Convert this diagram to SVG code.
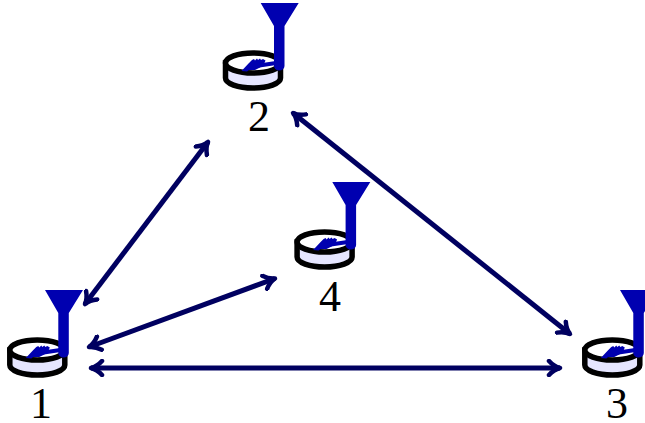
<svg xmlns="http://www.w3.org/2000/svg" width="645" height="423" viewBox="0 0 645 423">
<style>
.conn{fill:none;stroke:#000060;stroke-width:5;marker-start:url(#head);marker-end:url(#head)}
.disk{fill:#e6e6ff;stroke:#000;stroke-width:5.5}
.top{fill:#fff;stroke:#000;stroke-width:5.5}
.blue{fill:#0000b0}
.arm{fill:none;stroke:#0000b0;stroke-width:4}
.lbl{font-family:"Liberation Serif","Times New Roman",serif;font-size:44px;fill:#000;text-anchor:middle}
</style>
<defs>
<marker id="head" viewBox="-14 -9 18 18" refX="0" refY="0" markerUnits="userSpaceOnUse" markerWidth="18" markerHeight="18" orient="auto-start-reverse">
<path d="M-11,-7 Q-6,-1.5 0,0 Q-6,1.5 -11,7" fill="none" stroke="#000060" stroke-width="4.5" stroke-linecap="round" stroke-linejoin="round"/>
</marker>
<g id="ant">
<path class="disk" d="M225.5,63 V78 A27.5,10 0 0 0 280.5,78 V63 Z"/>
<ellipse class="top" cx="253" cy="63" rx="27.5" ry="10"/>
<path class="blue" d="M260.7,3 H298.7 L284.5,26 V66 A5.2,4.5 0 0 1 274,66 V26 Z"/>
<path class="arm" d="M276,63 L256,66"/>
<path class="blue" d="M241.5,71 L249,63 L252,60 L254,59 L255,60.5 L257,58.5 L258,60 L260,58.5 L261,60 L263,59 L265.500,60.500 L264,64 L260,67.500 L255,70 L249,70 L247,71.500 Z"/>
</g>
</defs>
<g id="connectors">
<path class="conn" d="M85,304 L208,142"/>
<path class="conn" d="M89,347 L275,278.5"/>
<path class="conn" d="M91,368 L560,368"/>
<path class="conn" d="M293,113 L570,334"/>
</g>
<g id="node-1"><use href="#ant" x="-215.7" y="287"/><text class="lbl" x="41" y="418">1</text></g>
<g id="node-2"><use href="#ant"/><text class="lbl" x="259" y="131">2</text></g>
<g id="node-3"><use href="#ant" x="359.3" y="287"/><text class="lbl" x="617" y="418">3</text></g>
<g id="node-4"><use href="#ant" x="71.6" y="179"/><text class="lbl" x="330" y="311">4</text></g>
</svg>
